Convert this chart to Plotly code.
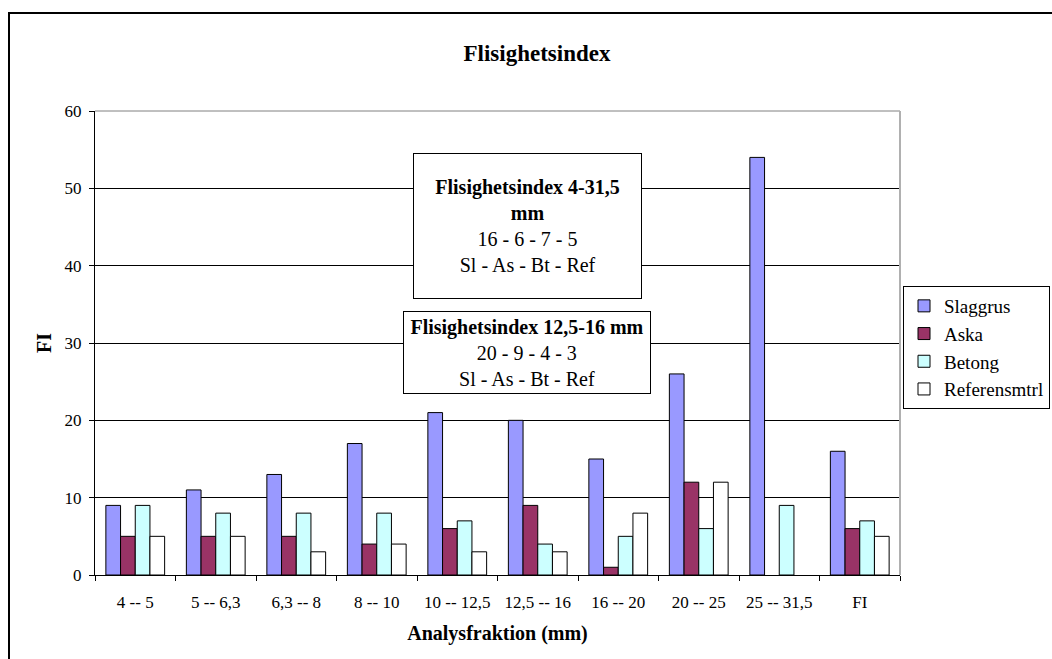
import plotly.graph_objects as go

# Size fractions (mm) plus the overall index
fraktioner = ["4 -- 5", "5 -- 6,3", "6,3 -- 8", "8 -- 10", "10 -- 12,5",
              "12,5 -- 16", "16 -- 20", "20 -- 25", "25 -- 31,5", "FI"]

slaggrus = [9, 11, 13, 17, 21, 20, 15, 26, 54, 16]
aska = [5, 5, 5, 4, 6, 9, 1, 12, None, 6]
betong = [9, 8, 8, 8, 7, 4, 5, 6, 9, 7]
referens = [5, 5, 3, 4, 3, 3, 8, 12, None, 5]

serier = [
    ("Slaggrus", slaggrus, "#9999FF"),
    ("Aska", aska, "#993366"),
    ("Betong", betong, "#CCFFFF"),
    ("Referensmtrl", referens, "#FFFFFF"),
]

FONT = "Liberation Serif"

# plot-area geometry in pixels
W, H = 1052, 659
L, R, T, B = 95, 152, 111, 84
PW, PH = W - L - R, H - T - B


def px_x(x):
    return (x - L) / PW


def px_y(y):
    return (H - B - y) / PH


fig = go.Figure()
for i, (namn, varden, farg) in enumerate(serier):
    fig.add_trace(go.Bar(
        x=fraktioner, y=varden, name=namn,
        marker=dict(color=farg, line=dict(color="#000000", width=1)),
        legendgroup=f"g{i}",
    ))

fig.update_layout(
    width=W, height=H,
    margin=dict(l=L, r=R, t=T, b=B, pad=0, autoexpand=False),
    paper_bgcolor="white", plot_bgcolor="white",
    font=dict(family=FONT, color="black", size=17),
    barmode="group", bargap=0.27, bargroupgap=0,
    title=dict(text="<b>Flisighetsindex</b>", x=537 / W, xanchor="center",
               y=1 - 53 / H, yanchor="middle",
               font=dict(family=FONT, size=23, color="black")),
    showlegend=True,
    legend=dict(xref="container", yref="container",
                x=903 / W, y=1 - 286 / H, xanchor="left", yanchor="top",
                bordercolor="#000000", borderwidth=1, bgcolor="white",
                font=dict(family=FONT, size=19, color="black"),
                traceorder="grouped", tracegroupgap=0),
)

fig.update_xaxes(
    showline=True, linecolor="#000000", linewidth=1,
    ticks="outside", tickson="boundaries", ticklen=5, tickcolor="#000000",
    ticklabelstandoff=12,
    tickfont=dict(family=FONT, size=17, color="black"),
    showgrid=False,
    title=dict(text="<b>Analysfraktion (mm)</b>", standoff=14,
               font=dict(family=FONT, size=20, color="black")),
)
fig.update_yaxes(
    range=[0, 60], dtick=10, tick0=0,
    showline=True, linecolor="#000000", linewidth=1,
    ticks="outside", ticklen=5, tickcolor="#000000",
    ticklabelstandoff=4,
    tickfont=dict(family=FONT, size=17, color="black"),
    showgrid=True, gridcolor="#000000", gridwidth=1,
    zeroline=False,
    title=dict(text="<b>FI</b>", standoff=7,
               font=dict(family=FONT, size=20, color="black")),
)

# plot-area frame (top and right) and the outer chart frame
fig.add_shape(type="line", xref="paper", yref="paper", x0=0, x1=1, y0=1, y1=1,
              line=dict(color="#808080", width=1), layer="above")
fig.add_shape(type="line", xref="paper", yref="paper", x0=1, x1=1, y0=0, y1=1,
              line=dict(color="#B0B0B0", width=2), layer="above")
fig.add_shape(type="rect", xref="paper", yref="paper",
              x0=px_x(9), x1=px_x(1070), y0=px_y(680), y1=px_y(13),
              line=dict(color="#000000", width=2), layer="above")

# text boxes with the summarised index values
fig.add_annotation(
    xref="paper", yref="paper", x=px_x(527.5), y=px_y(226),
    xanchor="center", yanchor="middle",
    text="<b>Flisighetsindex 4-31,5<br>mm</b><br>16 - 6 - 7 - 5<br>Sl - As - Bt - Ref",
    showarrow=False, align="center",
    width=227, height=144, borderpad=0,
    bordercolor="#000000", borderwidth=1, bgcolor="white",
    font=dict(family=FONT, size=20, color="black"),
)
fig.add_annotation(
    xref="paper", yref="paper", x=px_x(527), y=px_y(352.5),
    xanchor="center", yanchor="middle",
    text="<b>Flisighetsindex 12,5-16 mm</b><br>20 - 9 - 4 - 3<br>Sl - As - Bt - Ref",
    showarrow=False, align="center",
    width=246, height=81, borderpad=0,
    bordercolor="#000000", borderwidth=1, bgcolor="white",
    font=dict(family=FONT, size=20, color="black"),
)

fig.write_html("out.html")
